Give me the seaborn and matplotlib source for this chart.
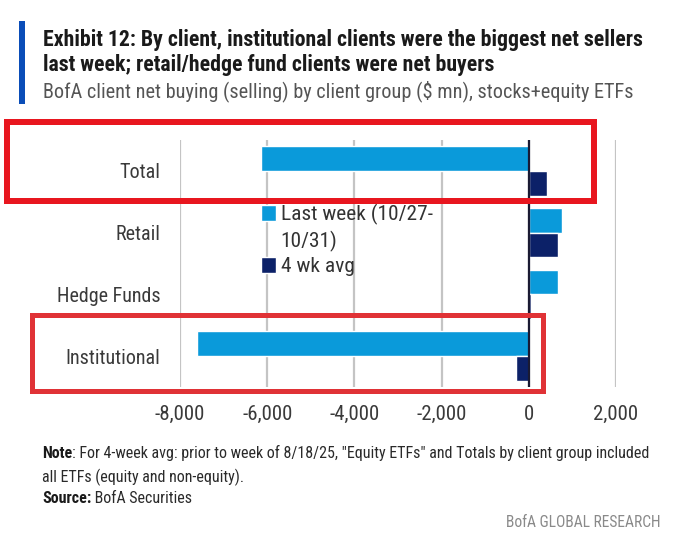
import matplotlib
matplotlib.use("Agg")
import matplotlib.pyplot as plt
import matplotlib.font_manager as fm
from matplotlib.patches import Rectangle, Patch
import seaborn as sns
import pandas as pd

# ---------------- data ----------------
categories = ["Total", "Retail", "Hedge Funds", "Institutional"]
last_week = [-6150, 770, 680, -7600]
avg_4wk = [410, 660, 40, -300]
series_names = ["Last week (10/27-\n10/31)", "4 wk avg"]
x_ticks = [-8000, -6000, -4000, -2000, 0, 2000]
x_tick_labels = ["-8,000", "-6,000", "-4,000", "-2,000", "0", "2,000"]

title_lines = ["Exhibit 12: By client, institutional clients were the biggest net sellers",
               "last week; retail/hedge fund clients were net buyers"]
subtitle = "BofA client net buying (selling) by client group ($ mn), stocks+equity ETFs"
note_bold = "Note"
note_rest = ": For 4-week avg: prior to week of 8/18/25, \"Equity ETFs\" and Totals by client group included"
note_line2 = "all ETFs (equity and non-equity)."
source_bold = "Source:"
source_rest = " BofA Securities"
brand = "BofA GLOBAL RESEARCH"

df = pd.DataFrame({
    "category": categories * 2,
    "value": last_week + avg_4wk,
    "series": [series_names[0]] * len(categories) + [series_names[1]] * len(categories),
})

LIGHT = "#0A9ADA"
NAVY = "#0C2168"

sns.set_theme(style="white")
names = {f.name for f in fm.fontManager.ttflist}
FONT = "DejaVu Sans"
for cand in ["Liberation Sans Narrow", "Roboto Condensed", "Open Sans Condensed", "Roboto", "Noto Sans"]:
    if cand in names:
        FONT = cand
        break
plt.rcParams["font.family"] = [FONT, "DejaVu Sans"]

W, H = 699, 554
fig = plt.figure(figsize=(W / 100, H / 100), dpi=100)
fig.patch.set_facecolor("white")


def fx(px):
    return px / W


def fy(py):
    return 1 - py / H


ax = fig.add_axes([fx(180), fy(387), fx(616) - fx(180), fy(140) - fy(387)])
sns.barplot(data=df, y="category", x="value", hue="series", orient="h",
            palette=[LIGHT, NAVY], order=categories, hue_order=series_names,
            saturation=1, width=0.8, ax=ax, legend=False)
ax.set_xlim(-8000, 2000)
ax.set_xticks(x_ticks)
ax.set_xticklabels(x_tick_labels)
ax.set_xlabel("")
ax.set_ylabel("")
for s in ax.spines.values():
    s.set_visible(False)
ax.grid(axis="x", color="#C4C4C4", lw=1.6)
ax.grid(axis="y", visible=False)
ax.set_axisbelow(True)
ax.axvline(0, color="#1A1A33", lw=1.6, zorder=3)
ax.tick_params(axis="both", length=0)
ax.tick_params(axis="y", pad=14, labelsize=14.5, labelcolor="#3A3A3A")
ax.tick_params(axis="x", pad=13, labelsize=15, labelcolor="#3A3A3A")

# legend: the wrapped first label gets its continuation line as a handle-less row
first_lines = series_names[0].split("\n")
leg_labels = [first_lines[0], first_lines[1], series_names[1]]
handles = [Patch(facecolor=LIGHT), Patch(facecolor="none", edgecolor="none"), Patch(facecolor=NAVY)]

probe = fig.text(0, 0, first_lines[0], fontsize=14)
fig.canvas.draw()
r = fig.canvas.get_renderer()
lfs = 14 * 153 / probe.get_window_extent(r).width
probe.remove()

leg = ax.legend(handles, leg_labels, loc="upper left",
                bbox_to_anchor=(fx(261), fy(204)), bbox_transform=fig.transFigure,
                frameon=False, fontsize=lfs, handlelength=0.72, handleheight=0.72,
                handletextpad=0.2, borderpad=0, borderaxespad=0, labelspacing=0.26)
for t in leg.get_texts():
    t.set_color("#333333")

# header
fig.add_artist(Rectangle((fx(19), fy(104)), fx(6), 83 / H, transform=fig.transFigure,
                         color="#0A4DB8", lw=0))
t1 = fig.text(fx(43), fy(46), title_lines[0], fontsize=13, fontweight="bold", color="#1A1A1A", va="baseline")
t2 = fig.text(fx(43), fy(71), title_lines[1], fontsize=13, fontweight="bold", color="#1A1A1A", va="baseline")
t3 = fig.text(fx(43), fy(97), subtitle, fontsize=12, color="#555555", va="baseline")

n1 = fig.text(fx(42), fy(458), note_bold, fontsize=10, fontweight="bold", color="#1A1A1A", va="baseline")
n2 = fig.text(fx(42), fy(458), note_rest, fontsize=10, color="#2A2A2A", va="baseline")
n3 = fig.text(fx(42), fy(482), note_line2, fontsize=10, color="#2A2A2A", va="baseline")
s1 = fig.text(fx(42), fy(503), source_bold, fontsize=10, fontweight="bold", color="#1A1A1A", va="baseline")
s2 = fig.text(fx(42), fy(503), source_rest, fontsize=10, color="#2A2A2A", va="baseline")
b1 = fig.text(fx(660), fy(527), brand, fontsize=10, color="#8A8A8A", va="baseline", ha="right")

fig.canvas.draw()


def width(t):
    return t.get_window_extent(r).width


def fit(t, target):
    t.set_fontsize(t.get_fontsize() * target / width(t))


fit(t1, 595)
fit(t3, 588)
t2.set_fontsize(t1.get_fontsize())
total = width(n1) + width(n2)
fs = 10 * 604 / total
for t in (n1, n2, n3, s1, s2):
    t.set_fontsize(fs)
fit(b1, 155)
fig.canvas.draw()
e = n1.get_window_extent(r)
n2.set_x(e.x1 / W)
e = s1.get_window_extent(r)
s2.set_x(e.x1 / W)

# red highlight boxes
fig.add_artist(Rectangle((fx(7), fy(201)), fx(594) - fx(7), fy(122) - fy(201),
                         transform=fig.transFigure, fill=False, ec="#E8161F", lw=6 * 0.72, zorder=10))
fig.add_artist(Rectangle((fx(31.5), fy(390.5)), fx(542.5) - fx(31.5), fy(314.5) - fy(390.5),
                         transform=fig.transFigure, fill=False, ec="#E03236", lw=5 * 0.72, zorder=10))

fig.savefig("out.png", dpi=100, facecolor="white")
